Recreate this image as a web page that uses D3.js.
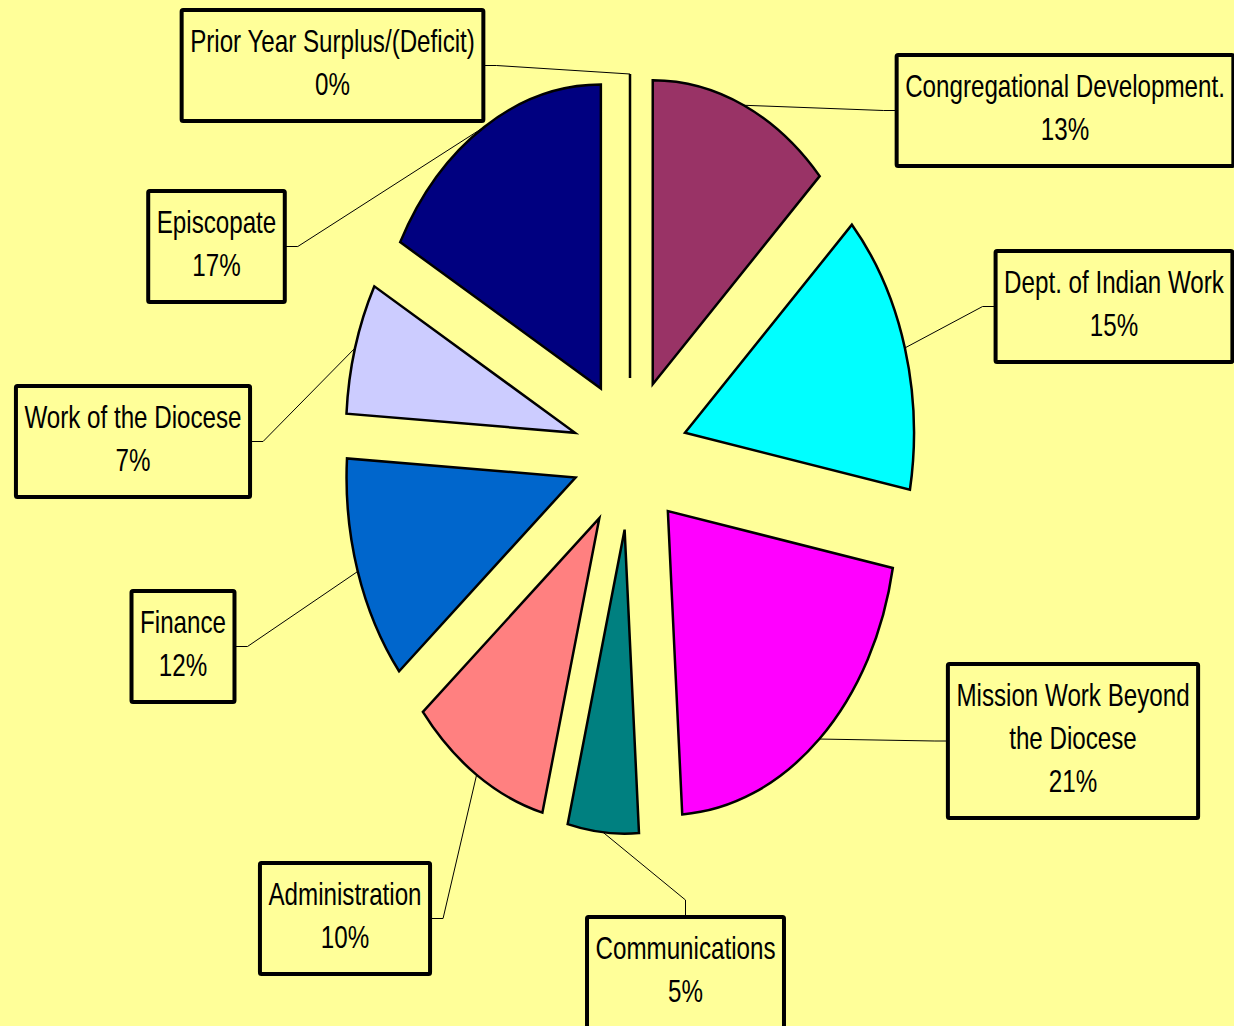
<!DOCTYPE html>
<html>
<head>
<meta charset="utf-8">
<script src="https://cdn.jsdelivr.net/npm/d3@7"></script>
<style>
  html, body { margin: 0; padding: 0; background: #FFFF99; overflow: hidden; }
  svg { display: block; }
  .label text {
    font-family: "Liberation Sans Narrow", "Arial Narrow", "Liberation Sans", Arial, sans-serif;
    font-size: 31px;
    fill: #000;
  }
</style>
</head>
<body>
<svg id="chart" width="1234" height="1026"></svg>
<script>
// budget shares, clockwise from 12 o'clock
const categories = [
  "Congregational Development.",
  "Dept. of Indian Work",
  "Mission Work Beyond the Diocese",
  "Communications",
  "Administration",
  "Finance",
  "Work of the Diocese",
  "Episcopate",
  "Prior Year Surplus/(Deficit)"
];
const shares = [13, 15, 21, 5, 10, 12, 7, 17, 0];
const colors = ["#993366", "#00FFFF", "#FF00FF", "#008080", "#FF8080",
                "#0066CC", "#CCCCFF", "#000080", "#FFFFFF"];

// label boxes: centre x, top y, which side the leader enters, words on first line
const labelLayout = [
  {cx: 1065, top: 55,  side: "left"},
  {cx: 1114, top: 251, side: "left"},
  {cx: 1073, top: 664, side: "left", wrap: 3},
  {cx: 685.5, top: 917, side: "top"},
  {cx: 345,  top: 863, side: "right"},
  {cx: 183,  top: 591, side: "right"},
  {cx: 133,  top: 386, side: "right"},
  {cx: 216.5, top: 191, side: "right"},
  {cx: 332.5, top: 10, side: "right"}
];

let svg = d3.select("#chart");
let width = +svg.attr("width");
let height = +svg.attr("height");

svg.append("rect").attr("width", width).attr("height", height).attr("fill", "#FFFF99");

let cx = 630, cy = 454;
let R = 304;            // vertical radius
let sx = 229 / 304;     // the pie is squeezed horizontally
let explode = 76;

let x = d3.scaleLinear().domain([-R, R]).range([cx - R * sx, cx + R * sx]);
let y = d3.scaleLinear().domain([-R, R]).range([cy - R, cy + R]);

let data = categories.map((c, i) => ({name: c, share: shares[i], color: colors[i], layout: labelLayout[i]}));
let total = d3.sum(shares);
let pct = d3.format(".0%");

let pie = d3.pie().sort(null).value(d => d.share);
let arc = d3.arc().innerRadius(0).outerRadius(R);
let arcs = pie(data);

let mid = d => (d.startAngle + d.endAngle) / 2;

let g = svg.append("g").attr("transform", "translate(" + cx + "," + cy + ") scale(" + sx + ",1)");

g.selectAll(".slice").data(arcs).enter()
  .append("path").attr("class", "slice")
  .attr("transform", d => "translate(" + explode * Math.sin(mid(d)) + "," + (-explode * Math.cos(mid(d))) + ")")
  .attr("d", arc)
  .attr("fill", d => d.data.color)
  .attr("stroke", "#000")
  .attr("stroke-width", 2.5)
  .attr("stroke-linejoin", "miter")
  .attr("vector-effect", "non-scaling-stroke");

// labels
let labels = svg.selectAll(".label").data(arcs).enter()
  .append("g").attr("class", "label");

let lineGap = 43;
let narrow = 0.78;   // fake a narrow face by squeezing the regular one

labels.each(function(d) {
  let lay = d.data.layout;
  let words = d.data.name.split(" ");
  let lines = lay.wrap ? [words.slice(0, lay.wrap).join(" "), words.slice(lay.wrap).join(" ")] : [d.data.name];
  lines.push(pct(d.data.share / total));

  let sel = d3.select(this);
  let box = sel.append("rect");
  let texts = sel.selectAll("text").data(lines).enter()
    .append("text")
    .attr("transform", (t, i) => "translate(" + lay.cx + "," + (lay.top + 42 + i * lineGap) + ") scale(" + narrow + ",1)")
    .attr("text-anchor", "middle")
    .text(t => t);

  let w = d3.max(texts.nodes(), n => n.getComputedTextLength()) * narrow + 17;
  let h = lines.length * lineGap + 25;
  let left = lay.cx - w / 2;

  box.attr("x", left).attr("y", lay.top)
    .attr("width", w).attr("height", h)
    .attr("fill", "#FFFF99")
    .attr("stroke", "#000")
    .attr("stroke-width", 4)
    .attr("rx", 1.5);

  // leader from slice edge to box
  let a = mid(d);
  let ax = x((R + explode) * Math.sin(a));
  let ay = y(-(R + explode) * Math.cos(a));
  let pts;
  if (lay.side === "left") {
    let by = lay.top + h / 2;
    pts = [[ax, ay], [left - 13, by], [left, by]];
  } else if (lay.side === "right") {
    let by = lay.top + h / 2;
    pts = [[ax, ay], [left + w + 13, by], [left + w, by]];
  } else {
    pts = [[ax, ay], [lay.cx, lay.top - 17], [lay.cx, lay.top]];
  }
  sel.insert("path", "rect")
    .attr("d", d3.line()(pts))
    .attr("fill", "none")
    .attr("stroke", "#000")
    .attr("stroke-width", 1);
});
</script>
</body>
</html>
